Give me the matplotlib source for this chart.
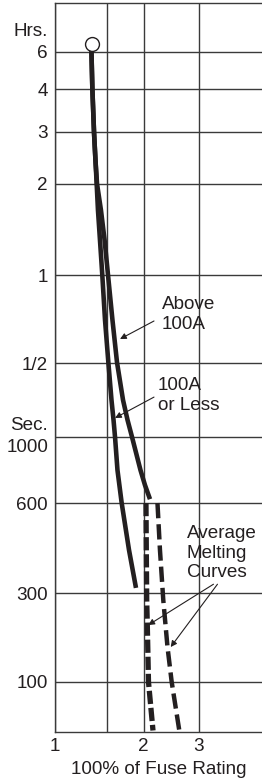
import numpy as np
import matplotlib
matplotlib.use('Agg')
import matplotlib.pyplot as plt

INK = '#231f20'
GRID = '#3a3a3a'

# Printed grid is not an exact log scale, so the axes follow the sheet's spacing
# (value -> height on the sheet in px)
y_knot_secs = [54, 100, 300, 600, 1000, 1800, 3600, 7200, 10800, 14400, 21600, 36850]
y_knot_pos = [0, 50, 139, 229, 295, 369, 457, 548, 600, 643, 680, 728.7]
x_knot_vals = [1, 1.5, 2, 3, 4.79]
x_knot_pos = [0, 52, 88.5, 143.5, 207]

# Tick values (time in seconds) and the labels printed on the sheet
y_ticks = [100, 300, 600, 1000, 1800, 3600, 7200, 10800, 14400, 21600]
y_labels = ['100', '300', '600', '', '1/2', '1', '2', '3', '4', '6']
x_ticks = [1, 1.5, 2, 3]
x_labels = ['1', '', '2', '3']

# Solid curves (% of rating, seconds)
less100_x = [1.331, 1.329, 1.338, 1.356, 1.371, 1.384, 1.398, 1.420, 1.446, 1.477,
             1.516, 1.554, 1.579, 1.598, 1.629, 1.684, 1.784, 1.885]
less100_t = [23500, 21350, 14560, 10710, 8670, 7200, 5900, 4700, 3600, 2525,
             1810, 1341, 1146, 1000, 774, 600, 418, 312]
above100_x = [1.331, 1.329, 1.338, 1.356, 1.371, 1.388, 1.431, 1.472, 1.512, 1.566,
              1.623, 1.702, 1.763, 1.827, 1.953, 2.022, 2.098]
above100_t = [23500, 21350, 14560, 10710, 8670, 7200, 5900, 4700, 3600, 2525,
              1810, 1341, 1146, 1000, 774, 689, 618]

# Dashed average melting curves
melt_a_x = [2.037, 2.042, 2.048, 2.057, 2.075, 2.145]
melt_a_t = [600, 418, 275, 202, 100, 55]
melt_b_x = [2.217, 2.258, 2.314, 2.387, 2.462, 2.604]
melt_b_t = [600, 418, 275, 154, 100, 55]

# start point (open circle)
start_x = [1.331]
start_t = [23500]


def make_scale(vals, pos):
    lv = np.log10(vals)

    def fwd(v):
        v = np.clip(np.asarray(v, dtype=float), 1e-9, None)
        return np.interp(np.log10(v), lv, pos)

    def inv(u):
        return 10 ** np.interp(u, pos, lv)
    return fwd, inv


FS = 13.6
plt.rcParams['font.family'] = ['Liberation Sans', 'DejaVu Sans']
plt.rcParams['font.size'] = FS
plt.rcParams['lines.scale_dashes'] = False

fig = plt.figure(figsize=(2.62, 7.81), dpi=100)
ax = fig.add_axes([55 / 262, 49 / 781, 207 / 262, 728.7 / 781])

ax.set_xscale('function', functions=make_scale(x_knot_vals, x_knot_pos))
ax.set_yscale('function', functions=make_scale(y_knot_secs, y_knot_pos))
ax.set_xlim(1, 4.79)
ax.set_ylim(54, 36850)

ax.set_xticks(x_ticks)
ax.set_xticklabels(x_labels)
ax.set_yticks(y_ticks)
ax.set_yticklabels(y_labels)
ax.minorticks_off()
ax.tick_params(length=0, colors=INK, labelsize=FS)
ax.tick_params(axis='y', pad=5)
ax.tick_params(axis='x', pad=4)
ax.grid(True, color=GRID, lw=1.0)
ax.set_axisbelow(True)
for s in ['left', 'top', 'bottom']:
    ax.spines[s].set_color(GRID)
    ax.spines[s].set_linewidth(1.0)
ax.spines['right'].set_visible(False)

ax.set_xlabel('100% of Fuse Rating', color=INK, labelpad=5)

# curves
ax.plot(less100_x, less100_t, color=INK, lw=3.3, solid_capstyle='butt')
ax.plot(above100_x, above100_t, color=INK, lw=3.3, solid_capstyle='butt')
ax.plot(melt_a_x, melt_a_t, color=INK, lw=3.8, dashes=(9.5, 2.8))
ax.plot(melt_b_x, melt_b_t, color=INK, lw=3.2, dashes=(11, 4.3))
ax.plot(start_x, start_t, 'o', ms=10, mfc='white', mec=INK, mew=1.0, zorder=5)

# axis unit labels
ax.annotate('Hrs.', xy=(0, 21600), xycoords=('axes fraction', 'data'),
            xytext=(-7, 21), textcoords='offset pixels', ha='right', va='center', color=INK)
ax.annotate('Sec.', xy=(0, 1000), xycoords=('axes fraction', 'data'),
            xytext=(-7, 12), textcoords='offset pixels', ha='right', va='center', color=INK)
ax.annotate('1000', xy=(0, 1000), xycoords=('axes fraction', 'data'),
            xytext=(-7, -10), textcoords='offset pixels', ha='right', va='center', color=INK)

# callouts
arr = dict(arrowstyle='-|>', color=INK, lw=0.8, mutation_scale=9, shrinkA=0, shrinkB=0)
ax.text(2.292, 3050, 'Above\n100A', ha='left', va='top', color=INK, linespacing=1.2)
ax.annotate('', xy=(1.662, 2174), xytext=(2.161, 2506), arrowprops=arr)
ax.text(2.226, 1610, '100A\nor Less', ha='left', va='top', color=INK, linespacing=1.2)
ax.annotate('', xy=(1.598, 1163), xytext=(2.161, 1373), arrowprops=arr)
ax.text(2.756, 506, 'Average\nMelting\nCurves', ha='left', va='top', color=INK, linespacing=1.2)
ax.annotate('', xy=(2.072, 202), xytext=(3.35, 321), arrowprops=arr)
ax.annotate('', xy=(2.444, 154), xytext=(3.45, 321), arrowprops=arr)

fig.savefig('out.png', dpi=100)
